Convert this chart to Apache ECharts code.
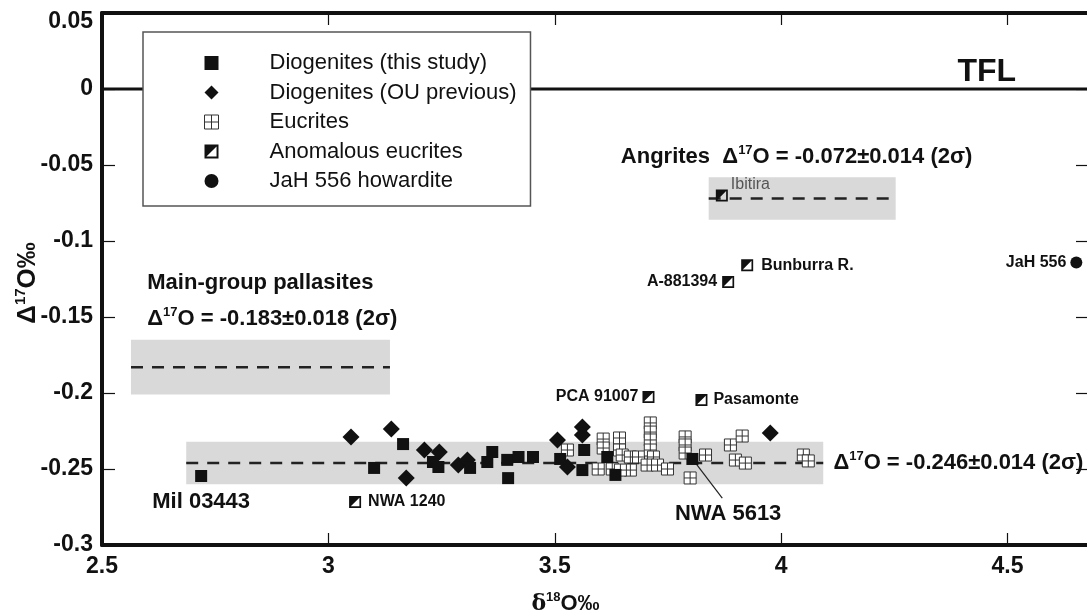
<!DOCTYPE html>
<html>
<head>
<meta charset="utf-8">
<script src="https://cdn.jsdelivr.net/npm/echarts@6/dist/echarts.min.js"></script>
<style>
  html, body { margin: 0; padding: 0; background: #fff; }
  #chart { width: 1087px; height: 614px; }
</style>
</head>
<body>
<div id="chart"></div>
<script>
// δ18O ‰ (x) versus Δ17O ‰ (y)
const diogenitesThisStudy = [
  [2.719, -0.2546], [3.101, -0.2493], [3.165, -0.2336], [3.231, -0.2454],
  [3.243, -0.2487], [3.313, -0.2493], [3.351, -0.2454], [3.362, -0.2388],
  [3.395, -0.2440], [3.397, -0.2560], [3.420, -0.2421], [3.452, -0.2421],
  [3.512, -0.2434], [3.561, -0.2507], [3.565, -0.2375], [3.616, -0.2421],
  [3.634, -0.2539], [3.804, -0.2434]
];
const diogenitesThisStudyNames = [
  'Mil 03443', '', '', '', '', '', '', '', '', '', '', '', '', '', '', '', '', 'NWA 5613'
];

const diogenitesOUPrevious = [
  [3.050, -0.2290], [3.139, -0.2237], [3.172, -0.2560], [3.212, -0.2375],
  [3.245, -0.2388], [3.287, -0.2474], [3.307, -0.2440], [3.506, -0.2309],
  [3.528, -0.2487], [3.561, -0.2224], [3.561, -0.2276], [3.976, -0.2263]
];

const eucrites = [
  [3.528, -0.2375], [3.607, -0.2303], [3.643, -0.2296], [3.607, -0.2362],
  [3.643, -0.2375], [3.596, -0.2500], [3.627, -0.2500], [3.649, -0.2408],
  [3.667, -0.2421], [3.667, -0.2507], [3.645, -0.2507], [3.685, -0.2421],
  [3.711, -0.2197], [3.711, -0.2257], [3.711, -0.2309], [3.711, -0.2375],
  [3.718, -0.2421], [3.704, -0.2474], [3.727, -0.2474], [3.749, -0.2500],
  [3.788, -0.2289], [3.788, -0.2342], [3.788, -0.2395], [3.799, -0.2559],
  [3.833, -0.2408], [3.888, -0.2342], [3.914, -0.2283], [3.899, -0.2441],
  [3.921, -0.2461], [4.049, -0.2408], [4.060, -0.2447]
];

const anomalousEucrites = [
  [3.869, -0.0700], [3.925, -0.1159], [3.883, -0.1269],
  [3.707, -0.2026], [3.824, -0.2046], [3.059, -0.2717]
];
const anomalousEucriteNames = ['Ibitira', 'Bunburra R.', 'A-881394', 'PCA 91007', 'Pasamonte', 'NWA 1240'];

const howardites = [[4.652, -0.1141]];
const howarditeNames = ['JaH 556'];

// Group fractionation lines: mean Δ17O ± 2σ drawn over a δ18O span
const bandMeans  = [-0.246, -0.183, -0.072];
const bandSigmas = [0.014, 0.018, 0.014];
const bandFrom   = [2.686, 2.564, 3.840];
const bandTo     = [4.093, 3.136, 4.253];

// Axis ranges
const xMin = 2.5, xMax = 4.68, xStep = 0.5;
const yMin = -0.3, yMax = 0.05, yStep = 0.05;

const FONT = '"Liberation Sans", Arial, Helvetica, sans-serif';
const SERIF = '"DejaVu Serif", "Liberation Serif", serif';
const INK = '#111';

const SYMBOLS = {
  square: 'path://M0 0H10V10H0Z',
  diamond: 'path://M5 0L10 5L5 10L0 5Z',
  eucrite: 'path://M0 0H10V10H0Z M5 0V10 M0 5H10',
  anomalous: 'path://M0 0H10V10H0Z M1.4 1.4V8.6H8.6V1.4Z M1.4 1.4H8.6L1.4 8.6Z'
};

// rich-text styles (ECharts label form) for Δ17O / δ18O text
function richSet(size) {
  return {
    t: { fontFamily: FONT, fontWeight: 'bold', fontSize: size, color: INK, lineHeight: size + 4 },
    s: { fontFamily: FONT, fontWeight: 'bold', fontSize: Math.round(size * 0.58), color: INK,
         verticalAlign: 'top', lineHeight: Math.round(size * 0.62) },
    g: { fontFamily: SERIF, fontWeight: 'bold', fontSize: size, color: INK, lineHeight: size + 4 }
  };
}
// same styles for zrender text elements (fill instead of color)
function zrRich(size) {
  const r = richSet(size);
  Object.keys(r).forEach(function (k) { r[k].fill = r[k].color; delete r[k].color; });
  r.big = { fontFamily: FONT, fontWeight: 'bold', fontSize: 32, fill: INK, lineHeight: 36 };
  return r;
}
function deltaText(mean, sigma) {
  return '{t|Δ}{s|17}{t|O = ' + mean.toFixed(3) + '±' + sigma.toFixed(3) + ' (2σ)}';
}

// label placement for individually named meteorites
const pointLabelStyle = {
  'Ibitira':     { position: 'right', distance: 3, offset: [0, -11], fontWeight: 'normal', color: '#555' },
  'Bunburra R.': { position: 'right', distance: 8 },
  'A-881394':    { position: 'left', distance: 5 },
  'PCA 91007':   { position: 'left', distance: 4 },
  'Pasamonte':   { position: 'right', distance: 6 },
  'NWA 1240':    { position: 'right', distance: 7 },
  'JaH 556':     { position: 'left', distance: 4 },
  'Mil 03443':   { position: 'bottom', distance: 9, fontSize: 22 }
};

function namedPoints(points, names) {
  return points.map(function (p, i) {
    const name = names[i] || '';
    const item = { value: p, name: name };
    if (name && pointLabelStyle[name]) {
      item.label = Object.assign({ show: true }, pointLabelStyle[name]);
    }
    return item;
  });
}

const pointLabel = {
  show: false, formatter: '{b}', fontFamily: FONT, fontWeight: 'bold', fontSize: 16, color: INK
};

// group bands: dashed mean line with a grey ±2σ area
const bandSeries = bandMeans.map(function (m, i) {
  return {
    type: 'line', silent: true, symbol: 'none', z: 2,
    data: [[bandFrom[i], m], [bandTo[i], m]],
    lineStyle: { color: '#222', width: 2.5, type: [12, 9] },
    markArea: {
      silent: true,
      itemStyle: { color: '#d9d9d9' },
      data: [[{ coord: [bandFrom[i], m - bandSigmas[i]] }, { coord: [bandTo[i], m + bandSigmas[i]] }]]
    }
  };
});

// NWA 5613 sits inside the cluster; its name is placed below with a leader
const nwa5613 = diogenitesThisStudy[diogenitesThisStudyNames.indexOf('NWA 5613')];
const nwaLabelAt = [3.883, -0.2795];
const nwaLeaderEnd = [3.870, -0.2691];

// text annotations anchored in data coordinates
const notes = [
  { at: [4.3895, 0.0112], text: '{big|TFL}', align: 'left' },
  { at: [2.6, -0.1275], text: '{t|Main-group pallasites}', align: 'left' },
  { at: [2.6, -0.1515], text: deltaText(bandMeans[1], bandSigmas[1]), align: 'left' },
  { at: [3.646, -0.0450], text: '{t|Angrites  }' + deltaText(bandMeans[2], bandSigmas[2]), align: 'left' },
  { at: [4.1154, bandMeans[0]], text: deltaText(bandMeans[0], bandSigmas[0]), align: 'left' },
  { at: nwaLabelAt, text: '{t|NWA 5613}', align: 'center' }
];

const axisLineStyle = { color: INK, width: 4 };
const tickStyle = { color: INK, width: 1.2 };

const option = {
  animation: false,
  backgroundColor: '#fff',
  grid: { left: 102, top: 13, right: -2, bottom: 69, containLabel: false, outerBoundsMode: 'none' },
  legend: {
    orient: 'vertical',
    left: 143, top: 32,
    padding: [18, 14, 12, 61],
    itemGap: 3.5,
    itemWidth: 106,
    itemHeight: 14,
    symbolKeepAspect: true,
    backgroundColor: '#fff',
    borderColor: '#555',
    borderWidth: 1.5,
    borderRadius: 0,
    textStyle: { fontFamily: FONT, fontSize: 22, color: INK, lineHeight: 26 },
    data: [
      { name: 'Diogenites (this study)' },
      { name: 'Diogenites (OU previous)' },
      { name: 'Eucrites', itemStyle: { color: '#fff', borderColor: '#333', borderWidth: 1 } },
      { name: 'Anomalous eucrites' },
      { name: 'JaH 556 howardite' }
    ]
  },
  xAxis: [
    {
      type: 'value', position: 'bottom', min: xMin, max: xMax, interval: xStep,
      splitLine: { show: false },
      axisLine: { show: true, onZero: false, lineStyle: axisLineStyle },
      axisTick: { show: true, inside: true, length: 12, lineStyle: tickStyle },
      axisLabel: {
        margin: 10, showMaxLabel: false,
        fontFamily: FONT, fontWeight: 'bold', fontSize: 23, color: INK,
        formatter: function (v) { return String(+v.toFixed(2)); }
      },
      name: '{g|δ}{s|18}{t|O‰}',
      nameLocation: 'middle', nameGap: 46, nameMoveOverlap: false,
      nameTextStyle: { rich: richSet(22), padding: [0, 60, 0, 0] }
    },
    {
      type: 'value', position: 'top', min: xMin, max: xMax, interval: xStep,
      splitLine: { show: false },
      axisLine: { show: true, onZero: false, lineStyle: axisLineStyle },
      axisTick: { show: true, inside: true, length: 12, lineStyle: tickStyle },
      axisLabel: { show: false }
    }
  ],
  yAxis: [
    {
      type: 'value', position: 'left', min: yMin, max: yMax, interval: yStep,
      splitLine: { show: false },
      axisLine: { show: true, onZero: false, lineStyle: axisLineStyle },
      axisTick: { show: true, inside: true, length: 13, lineStyle: tickStyle },
      axisLabel: {
        margin: 9,
        fontFamily: FONT, fontWeight: 'bold', fontSize: 23, color: INK,
        formatter: function (v) {
          const s = String(+v.toFixed(2));
          return v >= yMax - 1e-9 ? '{lo|' + s + '}' : s;
        },
        rich: { lo: { fontFamily: FONT, fontWeight: 'bold', fontSize: 23, color: INK, padding: [18, 0, 0, 0] } }
      },
      name: '{t|Δ}{s|17}{t|O‰}',
      nameLocation: 'middle', nameGap: 59, nameRotate: 90, nameMoveOverlap: false,
      nameTextStyle: { rich: richSet(26), padding: [0, 8, 0, 0] }
    },
    {
      type: 'value', position: 'right', min: yMin, max: yMax, interval: yStep,
      splitLine: { show: false },
      axisLine: { show: true, onZero: false, lineStyle: axisLineStyle },
      axisTick: { show: true, inside: true, length: 13, lineStyle: tickStyle },
      axisLabel: { show: false }
    }
  ],
  series: [
    // terrestrial fractionation line
    {
      type: 'line', silent: true, symbol: 'none', z: 2,
      data: [[xMin, 0], [xMax, 0]],
      lineStyle: { color: INK, width: 3 }
    }
  ].concat(bandSeries).concat([
    {
      type: 'line', silent: true, symbol: 'none', z: 2,
      data: [nwa5613, nwaLeaderEnd],
      lineStyle: { color: '#222', width: 1.2 }
    },
    {
      name: 'Eucrites', type: 'scatter', z: 3,
      symbol: SYMBOLS.eucrite, symbolSize: 12, symbolKeepAspect: true,
      itemStyle: { color: '#fff', borderColor: '#333', borderWidth: 1, opacity: 1 },
      data: eucrites
    },
    {
      name: 'Diogenites (OU previous)', type: 'scatter', z: 4,
      symbol: SYMBOLS.diamond, symbolSize: 17, symbolKeepAspect: true,
      itemStyle: { color: INK, opacity: 1 },
      data: diogenitesOUPrevious
    },
    {
      name: 'Diogenites (this study)', type: 'scatter', z: 4,
      symbol: SYMBOLS.square, symbolSize: 12, symbolKeepAspect: true,
      itemStyle: { color: INK, opacity: 1 },
      label: pointLabel,
      data: namedPoints(diogenitesThisStudy, diogenitesThisStudyNames.map(function (n) { return n === 'NWA 5613' ? '' : n; }))
    },
    {
      name: 'Anomalous eucrites', type: 'scatter', z: 4,
      symbol: SYMBOLS.anomalous, symbolSize: 12, symbolKeepAspect: true,
      itemStyle: { color: INK, opacity: 1 },
      label: pointLabel,
      data: namedPoints(anomalousEucrites, anomalousEucriteNames)
    },
    {
      name: 'JaH 556 howardite', type: 'scatter', z: 4,
      symbol: 'circle', symbolSize: 12,
      itemStyle: { color: INK, opacity: 1 },
      label: pointLabel,
      data: namedPoints(howardites, howarditeNames)
    }
  ])
};

const chart = echarts.init(document.getElementById('chart'), null, { renderer: 'canvas' });
chart.setOption(option);

// annotations: converted from data coordinates through the chart's axes
const rich = zrRich(22);
chart.setOption({
  graphic: notes.map(function (n) {
    const p = chart.convertToPixel({ xAxisIndex: 0, yAxisIndex: 0 }, n.at);
    return {
      type: 'text', silent: true, z: 20,
      x: p[0], y: p[1],
      style: { text: n.text, rich: rich, align: n.align, verticalAlign: 'middle', fill: INK }
    };
  })
});
</script>
</body>
</html>
